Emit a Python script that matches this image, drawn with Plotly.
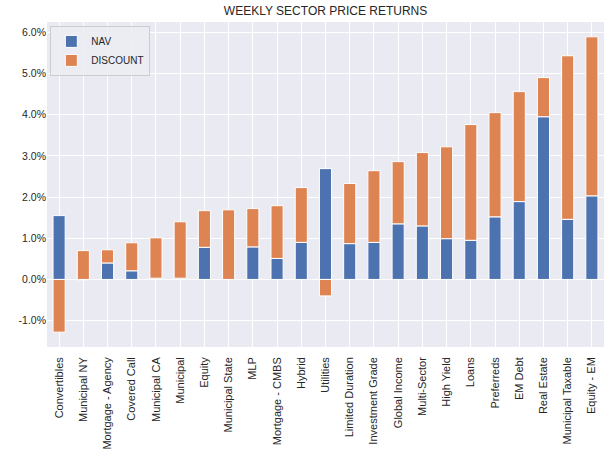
import plotly.graph_objects as go

categories = ["Convertibles", "Municipal NY", "Mortgage - Agency", "Covered Call", "Municipal CA",
              "Municipal", "Equity", "Municipal State", "MLP", "Mortgage - CMBS", "Hybrid",
              "Utilities", "Limited Duration", "Investment Grade", "Global Income", "Multi-Sector",
              "High Yield", "Loans", "Preferreds", "EM Debt", "Real Estate", "Municipal Taxable",
              "Equity - EM"]

nav = [1.55, -0.01, 0.40, 0.21, 0.03, 0.03, 0.78, 0.0, 0.79, 0.51, 0.90,
       2.69, 0.87, 0.90, 1.35, 1.30, 0.99, 0.95, 1.52, 1.89, 3.95, 1.46, 2.03]
discount = [-1.28, 0.70, 0.32, 0.68, 0.98, 1.37, 0.89, 1.69, 0.93, 1.28, 1.33,
            -0.40, 1.46, 1.74, 1.51, 1.78, 2.23, 2.81, 2.53, 2.67, 0.95, 3.97, 3.86]

nav_pct = [v / 100 for v in nav]
disc_pct = [v / 100 for v in discount]

tick_vals = [-0.01, 0.0, 0.01, 0.02, 0.03, 0.04, 0.05, 0.06]
tick_text = ["-1.0%", "0.0%", "1.0%", "2.0%", "3.0%", "4.0%", "5.0%", "6.0%"]

FONT = "Arial, Liberation Sans, sans-serif"
TXT = "#262626"

fig = go.Figure()
fig.add_trace(go.Bar(x=categories, y=nav_pct, name="NAV", marker_color="#4C72B0",
                     marker_line_color="white", marker_line_width=1, width=0.5))
fig.add_trace(go.Bar(x=categories, y=disc_pct, name="DISCOUNT", marker_color="#DD8452",
                     marker_line_color="white", marker_line_width=1, width=0.5))

n = len(categories)
fig.update_layout(
    barmode="relative",
    width=616, height=457,
    margin=dict(l=47, r=12, t=22, b=110, autoexpand=False),
    paper_bgcolor="white",
    plot_bgcolor="#EAEAF2",
    font=dict(family=FONT, size=10.5, color=TXT),
    title=dict(text="WEEKLY SECTOR PRICE RETURNS", x=0.5285, xanchor="center",
               y=1 - 11 / 457, yanchor="middle", font=dict(size=12, color=TXT)),
    legend=dict(x=0.006, y=0.988, xanchor="left", yanchor="top",
                bgcolor="rgba(236,236,243,0.9)", bordercolor="#CCCCCC", borderwidth=1,
                font=dict(size=10, color=TXT), tracegroupgap=0, itemwidth=30),
    showlegend=True,
)
fig.update_xaxes(range=[-0.5, n - 0.5], tickangle=-90, showgrid=True, gridcolor="white",
                 gridwidth=1, ticks="", tickfont=dict(size=11, color=TXT), showline=False,
                 automargin=False, ticklabelstandoff=7)
fig.update_yaxes(range=[-0.0164, 0.0625], tickvals=tick_vals, ticktext=tick_text,
                 showgrid=True, gridcolor="white", gridwidth=1, zeroline=True,
                 zerolinecolor="white", zerolinewidth=1, ticks="",
                 tickfont=dict(size=10.5, color=TXT), showline=False, automargin=False)

fig.write_html("out.html", config={"displayModeBar": False},
               post_script="document.body.style.margin='0';")
